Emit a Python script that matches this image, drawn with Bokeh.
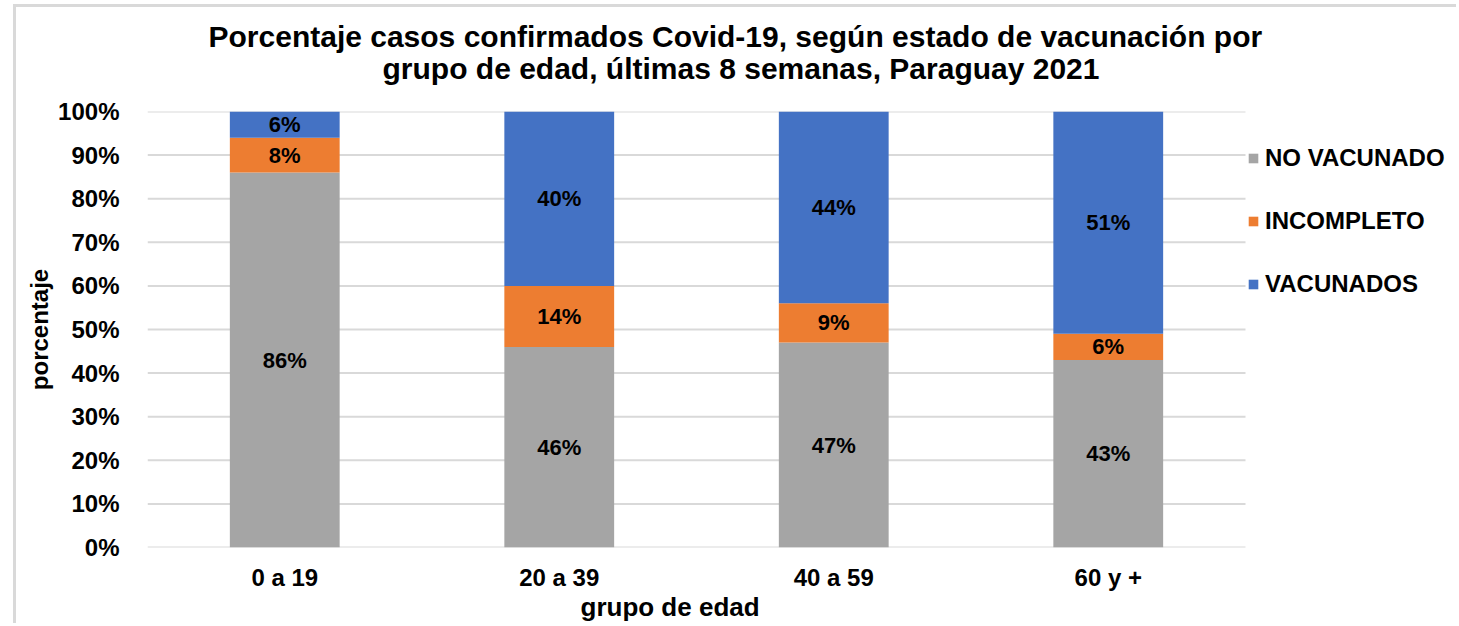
from bokeh.plotting import figure
from bokeh.models import (ColumnDataSource, LabelSet, Legend, LegendItem, Title,
                          PrintfTickFormatter, FixedTicker, Range1d)
from bokeh.core.properties import value
from bokeh.embed import file_html
from bokeh.resources import INLINE

# ---- data ----
groups = ["0 a 19", "20 a 39", "40 a 59", "60 y +"]
no_vacunado = [86, 46, 47, 43]
incompleto = [8, 14, 9, 6]
vacunados = [6, 40, 44, 51]
series_names = ["NO VACUNADO", "INCOMPLETO", "VACUNADOS"]
colors = ["#A5A5A5", "#ED7D31", "#4472C4"]
y_ticks = [0, 10, 20, 30, 40, 50, 60, 70, 80, 90, 100]

title_lines = ["Porcentaje casos confirmados Covid-19, según estado de vacunación por",
               "grupo de edad, últimas 8 semanas, Paraguay 2021"]
x_title = "grupo de edad"
y_title = "porcentaje"

FONT = "Liberation Sans"

xpos = [i + 0.5 for i in range(len(groups))]
src = ColumnDataSource(dict(x=xpos, nv=no_vacunado, inc=incompleto, vac=vacunados))

# x range: the category slots, plus room on the right for the legend
x_end = len(groups) + 214 / 274.5
p = figure(x_range=Range1d(0, x_end), y_range=Range1d(0, 100), width=1443, height=619,
           output_backend="svg", toolbar_location=None, title=None,
           min_border_left=131, min_border_right=0, min_border_top=104,
           min_border_bottom=79)
p.styles = {"border-left": "3px solid #D9D9D9", "border-top": "3px solid #D9D9D9",
            "margin-left": "13px", "margin-top": "4px"}
p.outline_line_color = None
p.background_fill_color = "white"
p.border_fill_color = "white"

# horizontal grid lines across the category area only
p.xgrid.grid_line_color = None
p.ygrid.grid_line_color = None
p.segment(x0=0, x1=len(groups), y0=y_ticks, y1=y_ticks, line_color="#D9D9D9",
          line_width=2)

renderers = p.vbar_stack(["nv", "inc", "vac"], x="x", width=0.4, color=colors,
                         source=src, line_color=None)

# axes
p.yaxis.ticker = FixedTicker(ticks=y_ticks)
p.yaxis.formatter = PrintfTickFormatter(format="%d%%")
p.xaxis.ticker = FixedTicker(ticks=xpos)
p.xaxis.major_label_overrides = {x: g for x, g in zip(xpos, groups)}
for ax in (p.xaxis[0], p.yaxis[0]):
    ax.axis_line_color = None
    ax.major_tick_line_color = None
    ax.minor_tick_line_color = None
    ax.major_tick_in = 0
    ax.major_tick_out = 0
    ax.minor_tick_in = 0
    ax.minor_tick_out = 0
    ax.major_label_text_font = FONT
    ax.major_label_text_font_style = "bold"
    ax.major_label_text_font_size = "24px"
    ax.major_label_text_color = "black"
p.yaxis.major_label_standoff = 28
p.xaxis.major_label_standoff = 16

# segment labels
lx, ly, lt = [], [], []
for i, xv in enumerate(xpos):
    base = 0
    for vals in (no_vacunado, incompleto, vacunados):
        v = vals[i]
        lx.append(xv)
        ly.append(base + v / 2)
        lt.append(f"{v}%")
        base += v
lab_src = ColumnDataSource(dict(x=lx, y=ly, t=lt))
p.add_layout(LabelSet(x="x", y="y", text="t", source=lab_src,
                      text_align="center", text_baseline="middle",
                      text_font=value(FONT), text_font_style="bold",
                      text_font_size="22px", text_color="black"))

# title lines (nearest to frame first)
p.add_layout(Title(text=title_lines[1], align="left", offset=235, standoff=54,
                   text_font=FONT, text_font_style="bold", text_font_size="30px",
                   text_color="black"), "above")
p.add_layout(Title(text=title_lines[0], align="left", offset=61, standoff=-60,
                   text_font=FONT, text_font_style="bold", text_font_size="30px",
                   text_color="black"), "above")

# axis titles
p.add_layout(Title(text=x_title, align="left", offset=433, standoff=-7,
                   text_font=FONT, text_font_style="bold", text_font_size="26px",
                   text_color="black"), "below")
p.add_layout(Title(text=y_title, align="center", standoff=5,
                   text_font=FONT, text_font_style="bold", text_font_size="24px",
                   text_color="black"), "left")

# legend
items = [LegendItem(label=n, renderers=[r]) for n, r in zip(series_names, renderers)]
legend = Legend(items=items, location=(1100, 249), orientation="vertical",
                glyph_width=12, glyph_height=12, label_standoff=6, spacing=35,
                padding=0, margin=0, border_line_color=None,
                background_fill_alpha=0, label_text_font=FONT,
                label_text_font_style="bold", label_text_font_size="24px",
                label_text_color="black")
p.add_layout(legend, "center")

open("out.html", "w").write(file_html(p, INLINE))
